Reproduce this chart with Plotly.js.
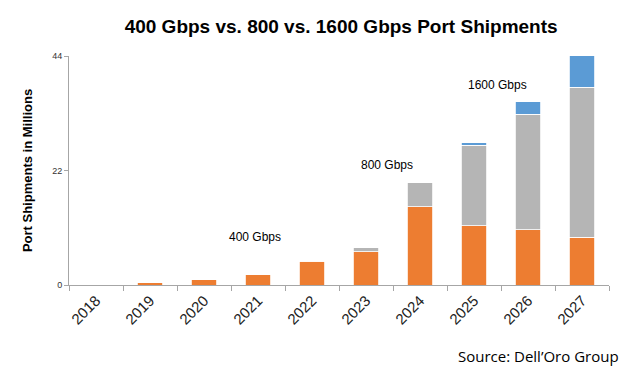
<!DOCTYPE html>
<html><head><meta charset="utf-8">
<script src="https://cdn.plot.ly/plotly-3.0.1.min.js"></script>
<style>body{margin:0;background:#fff}#c{width:640px;height:379px}</style>
</head><body><div id="c"></div>
<script>
const years = ['2018','2019','2020','2021','2022','2023','2024','2025','2026','2027'];
const g400 = [0, 0.5, 1.1, 2.1, 4.6, 6.4, 15.0, 11.4, 10.6, 9.2];
const g800 = [0, 0, 0, 0, 0.05, 0.9, 4.75, 15.5, 22.2, 28.8];
const g1600 = [0, 0, 0, 0, 0, 0, 0, 0.45, 2.4, 6.1];
const yTicks = [0, 22, 44];

const FONT = 'Liberation Sans, Arial, sans-serif';
const mk = (name, y, color) => ({type:'bar', name, x: years, y, marker:{color, line:{color:'#ffffff', width:0.8}}, hoverinfo:'x+y'});
const data = [mk('400 Gbps', g400, '#ED7D31'), mk('800 Gbps', g800, '#B5B5B5'), mk('1600 Gbps', g1600, '#5B9BD5')];

const layout = {
  width:640, height:379, barmode:'stack', bargap:0.52, showlegend:false,
  margin:{l:69, r:31, t:56, b:94},
  paper_bgcolor:'#fff', plot_bgcolor:'#fff',
  font:{family:FONT, color:'#000'},
  title:{text:'<b>400 Gbps vs. 800 vs. 1600 Gbps Port Shipments</b>', x:0.533, xanchor:'center', y:0.93, yanchor:'middle', font:{size:19, color:'#000', family:FONT}},
  xaxis:{type:'category', showline:true, linecolor:'#A6A6A6', linewidth:1, ticks:'outside', tickson:'boundaries', ticklen:5, tickcolor:'#A6A6A6', tickangle:-45, tickfont:{size:15, color:'#222', family:FONT}, showgrid:false, zeroline:false},
  yaxis:{range:[0,44], tickvals:yTicks, ticktext:yTicks.map(String), showline:true, linecolor:'#A6A6A6', ticks:'outside', ticklen:4, tickcolor:'#A6A6A6', tickfont:{size:9, color:'#333', family:FONT}, showgrid:false, zeroline:false,
    title:{text:'<b>Port Shipments in Millions</b>', font:{size:13, color:'#000', family:FONT}, standoff:16}},
  annotations:[
    {text:'400 Gbps', x:2.94, y:9.2, xref:'x', yref:'y', showarrow:false, font:{size:12, color:'#000', family:FONT}},
    {text:'800 Gbps', x:5.39, y:23.1, xref:'x', yref:'y', showarrow:false, font:{size:12, color:'#000', family:FONT}},
    {text:'1600 Gbps', x:7.43, y:38.5, xref:'x', yref:'y', showarrow:false, font:{size:12, color:'#000', family:FONT}},
    {text:'Source: Dell\u2019Oro Group', x:(538-69)/540, y:(285-356)/229, xref:'paper', yref:'paper', xanchor:'center', yanchor:'middle', showarrow:false, font:{size:15, family:'Open Sans, sans-serif', color:'#000'}}
  ]
};
Plotly.newPlot('c', data, layout, {displayModeBar:false, staticPlot:true});
</script></body></html>
